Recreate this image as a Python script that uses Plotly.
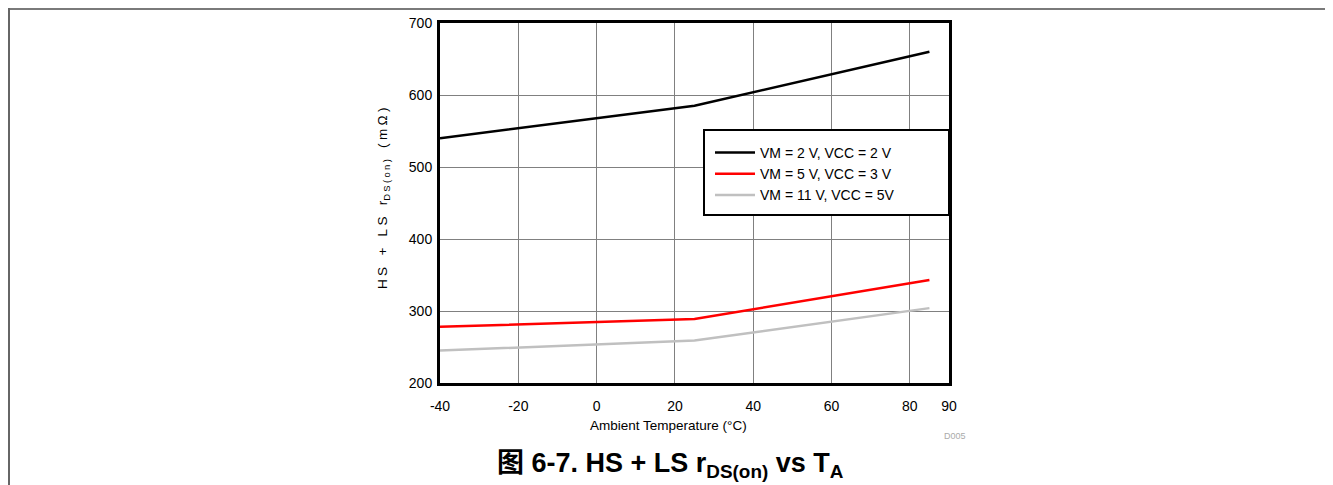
import plotly.graph_objects as go

# ---- data ----
temps = [-40, 25, 85]
vm2_vcc2 = [540, 585, 660]
vm5_vcc3 = [278, 289, 343]
vm11_vcc5 = [245, 259, 304]
series_names = ["VM = 2 V, VCC = 2 V", "VM = 5 V, VCC = 3 V", "VM = 11 V, VCC = 5V"]
series_colors = ["#000000", "#ff0000", "#c0c0c0"]
x_ticks = [-40, -20, 0, 20, 40, 60, 80, 90]
y_ticks = [200, 300, 400, 500, 600, 700]

# page is rendered with an 8px body margin: compensate
OFF = 8
PAGE_W, PAGE_H = 1333, 485
W, H = PAGE_W - OFF, PAGE_H - OFF
L, R, T, B = 440, 949, 23, 383   # plot area in page pixels

def px(x):
    return (x - L) / (R - L)

def py(y):
    return (B - y) / (B - T)

FONT = "Liberation Sans, Arial, Noto Sans CJK SC, sans-serif"

fig = go.Figure()
for name, ys, col in zip(series_names, [vm2_vcc2, vm5_vcc3, vm11_vcc5], series_colors):
    fig.add_trace(go.Scatter(x=temps, y=ys, mode="lines", name=name,
                             line=dict(color=col, width=2.5)))

sp = "\u2005"
wsp = "\u2004\u2002"
ytitle = (sp.join("HS") + wsp + "+" + wsp + sp.join("LS") + wsp + "r<sub>" + sp.join("DS(on)")
          + "</sub>" + wsp + sp.join("(mΩ)"))

shapes = [
    # page frame
    dict(type="line", xref="paper", yref="paper", x0=px(OFF + 1), x1=px(PAGE_W), y0=py(OFF + 1), y1=py(OFF + 1),
         line=dict(color="#7a7a7a", width=2)),
    dict(type="line", xref="paper", yref="paper", x0=px(OFF + 1), x1=px(OFF + 1), y0=py(OFF), y1=py(PAGE_H),
         line=dict(color="#666666", width=2)),
    # legend box
    dict(type="rect", xref="paper", yref="paper", x0=px(704), x1=px(949), y0=py(215), y1=py(130),
         fillcolor="white", line=dict(color="black", width=2), layer="above"),
]

annotations = [
    dict(text=ytitle, xref="paper", yref="paper", x=px(383), y=py(198), textangle=-90,
         showarrow=False, font=dict(family=FONT, size=13.5, color="black"), xanchor="center", yanchor="middle"),
    dict(text="Ambient Temperature (°C)", xref="paper", yref="paper", x=px(668), y=py(425),
         showarrow=False, font=dict(family=FONT, size=13.5, color="black"), xanchor="center", yanchor="middle"),
    dict(text="D005", xref="paper", yref="paper", x=px(955), y=py(436),
         showarrow=False, font=dict(family=FONT, size=9, color="#aaaaaa"), xanchor="center", yanchor="middle"),
    dict(text="图 6-7. HS + LS r<sub>DS(on)</sub> vs T<sub>A</sub>", xref="paper", yref="paper",
         x=px(670), y=py(465), showarrow=False,
         font=dict(family=FONT, size=27, color="black", weight="bold"),
         xanchor="center", yanchor="middle"),
]

fig.update_layout(
    width=W, height=H,
    margin=dict(l=L - OFF, r=W - (R - OFF), t=T - OFF, b=H - (B - OFF), pad=0, autoexpand=False),
    paper_bgcolor="white", plot_bgcolor="white",
    font=dict(family=FONT, size=14, color="black"),
    showlegend=True,
    legend=dict(x=px(710), y=py(137), xanchor="left", yanchor="top",
                bgcolor="rgba(0,0,0,0)", borderwidth=0, itemwidth=40,
                font=dict(family=FONT, size=14, color="black"), tracegroupgap=0),
    shapes=shapes,
    annotations=annotations,
)
fig.update_xaxes(range=[-40, 90], tickvals=x_ticks, ticktext=[str(v) for v in x_ticks],
                 showgrid=True, gridcolor="#808080", gridwidth=1, automargin=False,
                 showline=True, linecolor="black", linewidth=3, mirror=True,
                 ticks="", zeroline=False, tickfont=dict(size=14), ticklabelstandoff=8)
fig.update_yaxes(range=[200, 700], tickvals=y_ticks, ticktext=[str(v) for v in y_ticks],
                 showgrid=True, gridcolor="#808080", gridwidth=1, automargin=False,
                 showline=True, linecolor="black", linewidth=3, mirror=True,
                 ticks="", zeroline=False, tickfont=dict(size=14), ticklabelstandoff=2)

fig.write_html("out.html")
